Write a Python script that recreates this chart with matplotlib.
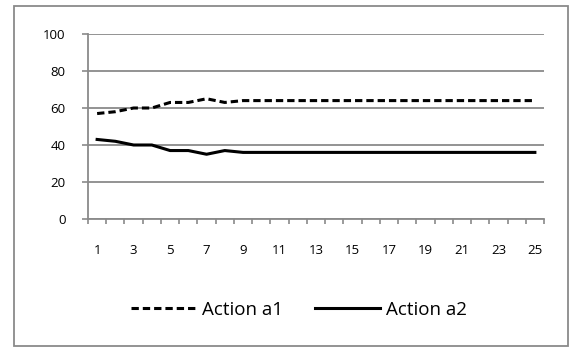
import matplotlib
matplotlib.use("Agg")
import matplotlib.pyplot as plt
from matplotlib.patches import Rectangle

steps = list(range(1, 26))
action_a1 = [57, 58, 60, 60, 63, 63, 65, 63] + [64] * 17
action_a2 = [43, 42, 40, 40, 37, 37, 35, 37] + [36] * 17
y_ticks = [0, 20, 40, 60, 80, 100]
x_tick_labels = [1, 3, 5, 7, 9, 11, 13, 15, 17, 19, 21, 23, 25]

plt.rcParams['font.family'] = ['Open Sans', 'DejaVu Sans']
W, H = 569, 347
fig = plt.figure(figsize=(W / 100, H / 100), dpi=100)
gray = '#8a8a8a'

fig.patches.append(Rectangle((13.5 / W, 1 - 346 / H), (567.5 - 13.5) / W, (346 - 5.5) / H,
                             transform=fig.transFigure, fill=False, edgecolor=gray, lw=1.3))

ax = fig.add_axes([88 / W, 1 - 219 / H, (544 - 88) / W, (219 - 34) / H])
ax.plot(steps, action_a1, color='black', lw=2.2, ls=(0, (2.4, 1.3)), label='Action a1')
ax.plot(steps, action_a2, color='black', lw=2.2, label='Action a2')

ax.set_xlim(0.5, 25.5)
ax.set_ylim(0, 100)
ax.set_yticks(y_ticks)
ax.set_xticks(x_tick_labels)
ax.set_xticklabels([str(v) for v in x_tick_labels])
ax.set_xticks([i + 0.5 for i in range(0, 26)], minor=True)
ax.tick_params(axis='x', which='major', length=0, pad=18, labelsize=9.5)
ax.tick_params(axis='x', which='minor', length=3.5, width=1.2, color=gray, direction='out')
ax.tick_params(axis='y', which='major', length=4, width=1.2, color=gray, pad=12, labelsize=9.5)
ax.yaxis.grid(True, color=gray, lw=1.3)
ax.set_axisbelow(True)
for s in ['top', 'right']:
    ax.spines[s].set_visible(False)
for s in ['left', 'bottom']:
    ax.spines[s].set_color(gray)
    ax.spines[s].set_linewidth(1.3)

fig.legend(loc='center', bbox_to_anchor=(0.525, 1 - 310 / H), ncol=2, frameon=False,
           fontsize=13.5, handlelength=3.5, handletextpad=0.3, columnspacing=1.7)

fig.savefig('out.png', dpi=100)
